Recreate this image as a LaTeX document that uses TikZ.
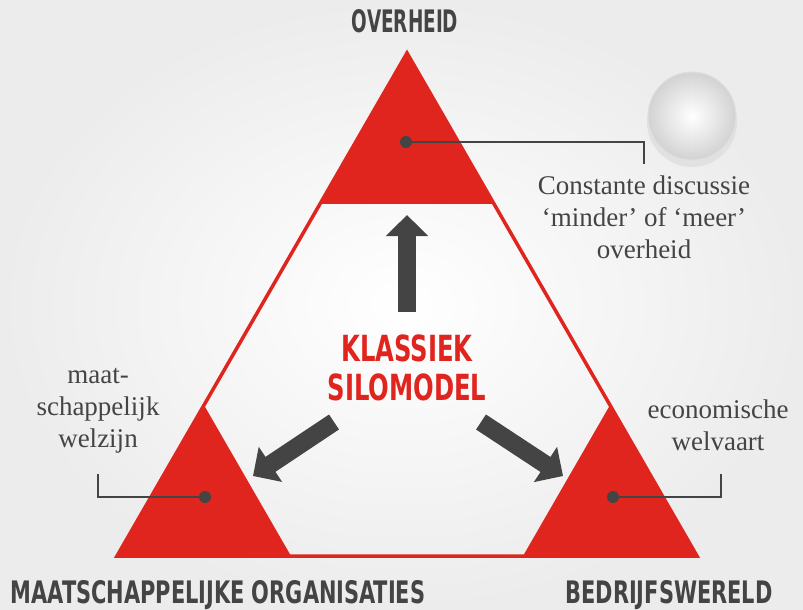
\documentclass[tikz,border=0pt]{standalone}
\usepackage{fontspec}
\setmainfont{Liberation Serif}
\newfontfamily\headfont[FakeStretch=0.75]{DejaVu Sans Condensed}
\usetikzlibrary{arrows.meta,calc}

\definecolor{silored}{HTML}{E0251F}
\definecolor{ink}{HTML}{444444}
\definecolor{paper}{HTML}{ECECEC}
\tikzstyle{corner}=[fill=silored]
\tikzstyle{dot}=[circle, fill=ink, inner sep=0pt, minimum size=12pt]
\tikzstyle{callout}=[draw=ink, line width=2pt]
\tikzstyle{bigarrow}=[draw=ink, line width=18pt, -{Triangle[length=21pt,width=41pt]}]
\tikzstyle{note}=[align=center, text=ink, font=\fontsize{27}{32}\selectfont]
\tikzstyle{head}=[text=ink, font=\headfont\bfseries\fontsize{31}{33}\selectfont]
\tikzstyle{title}=[text=silored, align=center, font=\headfont\bfseries\fontsize{36}{39}\selectfont]

\begin{document}
\begin{tikzpicture}[x=1pt, y=-1pt]
  \useasboundingbox (0,0) rectangle (803,610);
  \shade[inner color=white, outer color=paper] (0,0) rectangle (803,610);

  \coordinate (A) at (407,53);
  \coordinate (B) at (117,556);
  \coordinate (C) at (697,556);
  \draw[silored, line width=3.5pt, line join=miter] (A) -- (B) -- (C) -- cycle;

  \fill[corner] (A) -- ($(A)!0.3!(B)$) -- ($(A)!0.3!(C)$) -- cycle;
  \fill[corner] (B) -- ($(B)!0.3!(A)$) -- ($(B)!0.3!(C)$) -- cycle;
  \fill[corner] (C) -- ($(C)!0.3!(A)$) -- ($(C)!0.3!(B)$) -- cycle;

  \node[head] (Gov) at (405,21) {\scalebox{0.88}[1]{OVERHEID}};
  \node[head] (Org) at (218,595) {MAATSCHAPPELIJKE ORGANISATIES};
  \node[head] (Biz) at (669,595) {BEDRIJFSWERELD};

  \node[title] (Silo) at (407,368) {KLASSIEK\\SILOMODEL};

  \coordinate (U1) at (407,312);
  \coordinate (U2) at (407,215);
  \coordinate (L1) at (334,422);
  \coordinate (L2) at (253,476);
  \coordinate (R1) at (481,422);
  \coordinate (R2) at (563,476);
  \draw[bigarrow] (U1) -- (U2);
  \draw[bigarrow] (L1) -- (L2);
  \draw[bigarrow] (R1) -- (R2);

  \node[dot] (D1) at (406,142) {};
  \node[dot] (D2) at (205,497) {};
  \node[dot] (D3) at (613,497) {};
  \coordinate (C1) at (644,164);
  \coordinate (C2) at (98,474);
  \coordinate (C3) at (721,474);
  \draw[callout] (D1.center) -| (C1);
  \draw[callout] (D2.center) -| (C2);
  \draw[callout] (D3.center) -| (C3);

  \node[note] (N1) at (644,217) {Constante discussie\\‘minder’ of ‘meer’\\overheid};
  \node[note] (N2) at (98,411) {maat-\\schappelijk\\welzijn};
  \node[note] (N3) at (718,425) {economische\\welvaart};

  % glass ball
  \fill[gray!30, opacity=0.6] (692,122) circle (45);
  \shade[inner color=white, outer color=gray!35] (692,116) circle (44);
  \node[circle, minimum size=88pt, draw=gray!25, line width=1pt] (Ball) at (692,116) {};
\end{tikzpicture}
\end{document}
